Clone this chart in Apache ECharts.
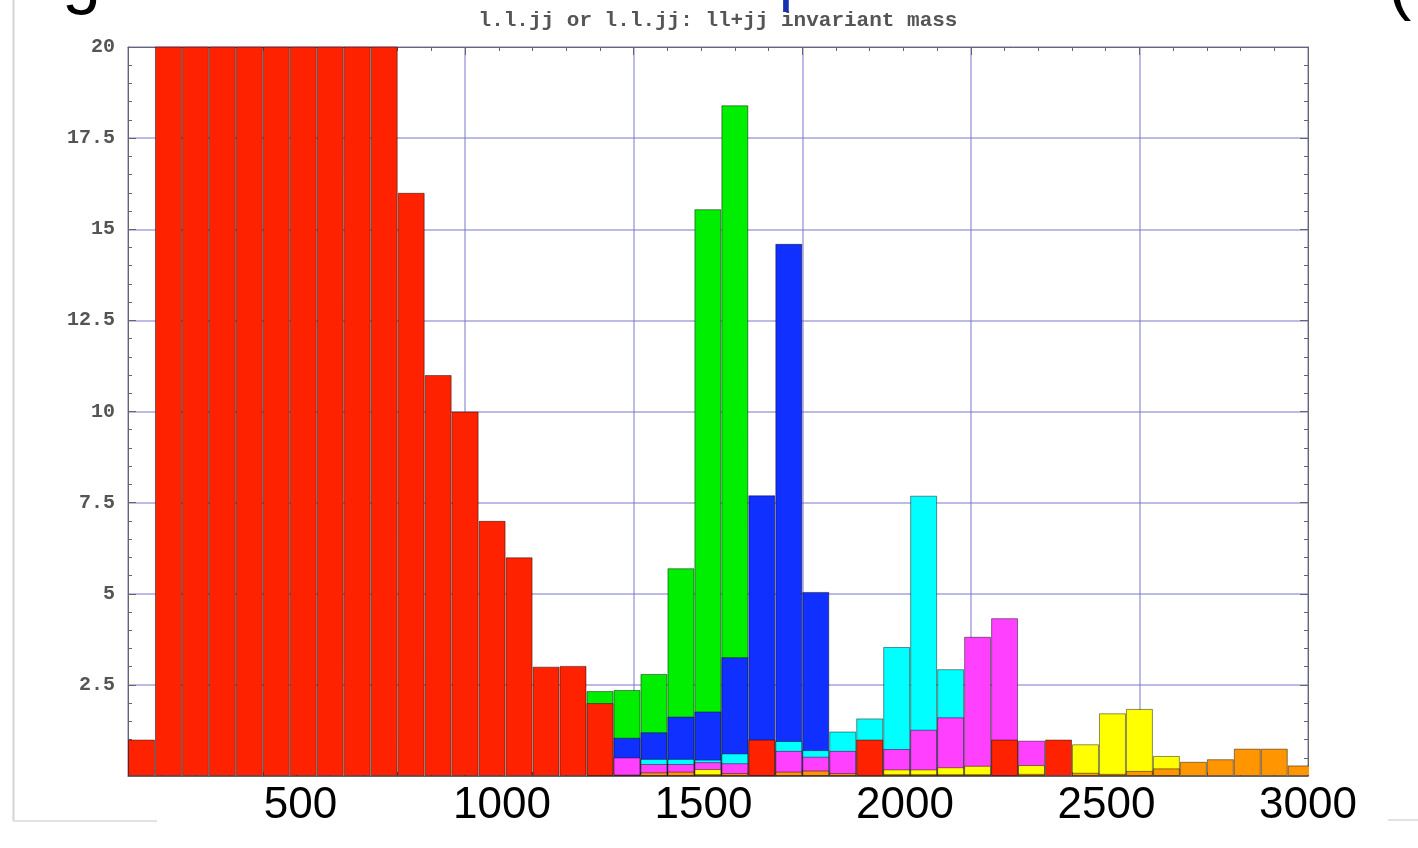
<!DOCTYPE html>
<html><head><meta charset="utf-8">
<script src="https://cdn.jsdelivr.net/npm/echarts@6/dist/echarts.min.js"></script>
<style>html,body{margin:0;padding:0;background:#fff;} #c{width:1418px;height:848px;}</style>
</head><body><div id="c"></div>
<script>
// ---- data ----
const chartTitle = 'l.l.jj or l.l.jj: ll+jj invariant mass';
const binCenters = [40,120,200,280,360,440,520,600,680,760,840,920,1000,1080,1160,1240,1320,1400,1480,1560,
  1640,1720,1800,1880,1960,2040,2120,2200,2280,2360,2440,2520,2600,2680,2760,2840,2920,3000,3080,3160,
  3240,3320,3400,3480];
// segment heights of each stacked colour, bottom to top
const red = [1,28,42,50,52,48,41,34,27,21,
  16,11,10,7,6,3,3.02,2,0,0,
  0,0,0,1,0,0,0,1,0,0,
  0,0,1,0,1,0,0,0,0,0,
  0,0,0,0];
const orange = [0,0,0,0,0,0,0,0,0,0,
  0,0,0,0,0,0,0,0,0.04,0.1,
  0.12,0.05,0.08,0,0.12,0.15,0.08,0,0.05,0.05,
  0.05,0.05,0,0.06,0,0.09,0.06,0.14,0.21,0.39,
  0.46,0.75,0.75,0.29];
const yellow = [0,0,0,0,0,0,0,0,0,0,
  0,0,0,0,0,0,0,0,0,0,
  0,0.14,0,0,0,0,0,0,0.13,0.13,
  0.19,0.23,0,0.24,0,0.78,1.66,1.70,0.34,0,
  0,0,0,0];
const magenta = [0,0,0,0,0,0,0,0,0,0,
  0,0,0,0,0,0,0,0,0.47,0.23,
  0.21,0.19,0.27,0,0.57,0.38,0.61,0,0.56,1.09,
  1.37,3.54,3.33,0.67,0,0,0,0,0,0,
  0,0,0,0];
const cyan = [0,0,0,0,0,0,0,0,0,0,
  0,0,0,0,0,0,0,0,0,0.14,
  0.14,0.07,0.27,0,0.27,0.18,0.53,0.58,2.80,6.42,
  1.32,0,0,0,0,0,0,0,0,0,
  0,0,0,0];
const blue = [0,0,0,0,0,0,0,0,0,0,
  0,0,0,0,0,0,0,0,0.54,0.73,
  1.16,1.32,2.64,6.7,13.64,4.34,0,0,0,0,
  0,0,0,0,0,0,0,0,0,0,
  0,0,0,0];
const green = [0,0,0,0,0,0,0,0,0,0,
  0,0,0,0,0,0,0,0.33,1.31,1.6,
  4.07,13.78,15.14,0,0,0,0,0,0,0,
  0,0,0,0,0,0,0,0,0,0,
  0,0,0,0];
const yTickValues = [2.5,5,7.5,10,12.5,15,17.5,20];
const yTickLabels = ['2.5','5','7.5','10','12.5','15','17.5','20'];
const xTickValues = [500,1000,1500,2000,2500,3000];
const xTickLabels = ['500','1000','1500','2000','2500','3000'];

// ---- chart ----
const chart = echarts.init(document.getElementById('c'), null, {renderer:'canvas'});
const stackDefs = [
  ['red', red, '#ff2200'],
  ['orange', orange, '#ff9500'],
  ['yellow', yellow, '#ffff00'],
  ['magenta', magenta, '#ff40ff'],
  ['cyan', cyan, '#00ffff'],
  ['blue', blue, '#1030ff'],
  ['green', green, '#00ee00']
];
// cumulative tops, so each colour shows its own segment
const running = binCenters.map(() => 0);
const layers = stackDefs.map(([name, vals, col]) => {
  const tops = vals.map((v, i) => (running[i] += v));
  return {name, col, data: binCenters.map((c, i) => vals[i] > 0 ? [c, +tops[i].toFixed(4)] : [c, '-'])};
});
// draw the highest layer first so lower layers paint over it
const series = layers.slice().reverse().map(L => ({
  name:L.name, type:'bar', xAxisIndex:0, yAxisIndex:0,
  barWidth:'100%', barGap:'-100%', clip:true, animation:false,
  data:L.data,
  itemStyle:{color:L.col, borderColor:'rgba(0,0,0,0.45)', borderWidth:1},
  emphasis:{disabled:true}
}));
const gridLineColor = 'rgba(120,120,205,0.5)';
const frameColor = '#666';
const tickFont = {fontFamily:'Liberation Mono, DejaVu Sans Mono, monospace', fontWeight:'bold', fontSize:20, color:'#555'};
chart.setOption({
  animation:false,
  backgroundColor:'#fff',
  grid:[
    {left:128, right:110, top:47, bottom:72, outerBoundsMode:'none', containLabel:false},
    {left:99, right:110, top:47, bottom:72, outerBoundsMode:'none', containLabel:false}
  ],
  xAxis:[
    {type:'value', gridIndex:0, min:0, max:3500, interval:500, position:'bottom',
     axisLine:{show:true, onZero:false, lineStyle:{color:frameColor, width:1}},
     axisTick:{show:true, inside:true, length:8, lineStyle:{color:frameColor}},
     minorTick:{show:true, splitNumber:5, length:4, lineStyle:{color:frameColor}},
     axisLabel:{show:false},
     splitLine:{show:true, lineStyle:{color:gridLineColor, width:2}}},
    {type:'value', gridIndex:0, min:0, max:3500, interval:500, position:'top',
     axisLine:{show:true, onZero:false, lineStyle:{color:frameColor, width:1}},
     axisTick:{show:true, inside:true, length:8, lineStyle:{color:frameColor}},
     minorTick:{show:true, splitNumber:5, length:4, lineStyle:{color:frameColor}},
     axisLabel:{show:false}, splitLine:{show:false}},
    {type:'value', gridIndex:1, min:0, max:3000, interval:500, position:'bottom',
     axisLine:{show:false}, axisTick:{show:false}, splitLine:{show:false},
     axisLabel:{show:true, margin:8, showMinLabel:false, showMaxLabel:true, hideOverlap:false,
       fontFamily:'Liberation Sans, Arial, sans-serif', fontSize:44, color:'#000',
       formatter: v => { const k = xTickValues.indexOf(v); return k >= 0 ? xTickLabels[k] : ''; }}}
  ],
  yAxis:[
    {type:'value', gridIndex:0, min:0, max:20, interval:2.5, position:'left',
     axisLine:{show:true, onZero:false, lineStyle:{color:frameColor, width:1}},
     axisTick:{show:true, inside:true, length:8, lineStyle:{color:frameColor}},
     minorTick:{show:true, splitNumber:5, length:4, lineStyle:{color:frameColor}},
     axisLabel:Object.assign({show:true, margin:13, showMinLabel:false,
       formatter: v => { const k = yTickValues.indexOf(v); return k >= 0 ? yTickLabels[k] : ''; }}, tickFont),
     splitLine:{show:true, lineStyle:{color:gridLineColor, width:2}}},
    {type:'value', gridIndex:0, min:0, max:20, interval:2.5, position:'right',
     axisLine:{show:true, onZero:false, lineStyle:{color:frameColor, width:1}},
     axisTick:{show:true, inside:true, length:8, lineStyle:{color:frameColor}},
     minorTick:{show:true, splitNumber:5, length:4, lineStyle:{color:frameColor}},
     axisLabel:{show:false}, splitLine:{show:false}},
    {type:'value', gridIndex:1, min:0, max:20, show:false}
  ],
  graphic:[
    {type:'text', x:718, y:10, z:50, style:{text:chartTitle, align:'center', verticalAlign:'top',
      font:'bold 21px "Liberation Mono", monospace', fill:'#555'}},
    {type:'text', x:62, y:-19, z:50, style:{text:'g', align:'left', verticalAlign:'middle',
      font:'70px "Liberation Sans", sans-serif', fill:'#000'}},
    {type:'text', x:779, y:-19, z:50, style:{text:'ρ', align:'left', verticalAlign:'middle',
      font:'64px "Liberation Sans", sans-serif', fill:'#1530b0'}},
    {type:'text', x:1388, y:-13, z:50, style:{text:'(', align:'left', verticalAlign:'middle',
      font:'70px "Liberation Sans", sans-serif', fill:'#000'}},
    {type:'line', z:50, shape:{x1:13.5, y1:0, x2:13.5, y2:821}, style:{stroke:'#d4d4d4', lineWidth:2}},
    {type:'line', z:50, shape:{x1:13, y1:821, x2:157, y2:821}, style:{stroke:'#e2e2e2', lineWidth:2}},
    {type:'line', z:50, shape:{x1:1388, y1:820, x2:1418, y2:820}, style:{stroke:'#e2e2e2', lineWidth:2}},
    {type:'rect', z:100, shape:{x:157, y:819, width:1231, height:29}, style:{fill:'#fff'}},
    {type:'rect', z:100, shape:{x:1309, y:730, width:12, height:48}, style:{fill:'#fff'}}
  ],
  series
});
</script>
</body></html>
